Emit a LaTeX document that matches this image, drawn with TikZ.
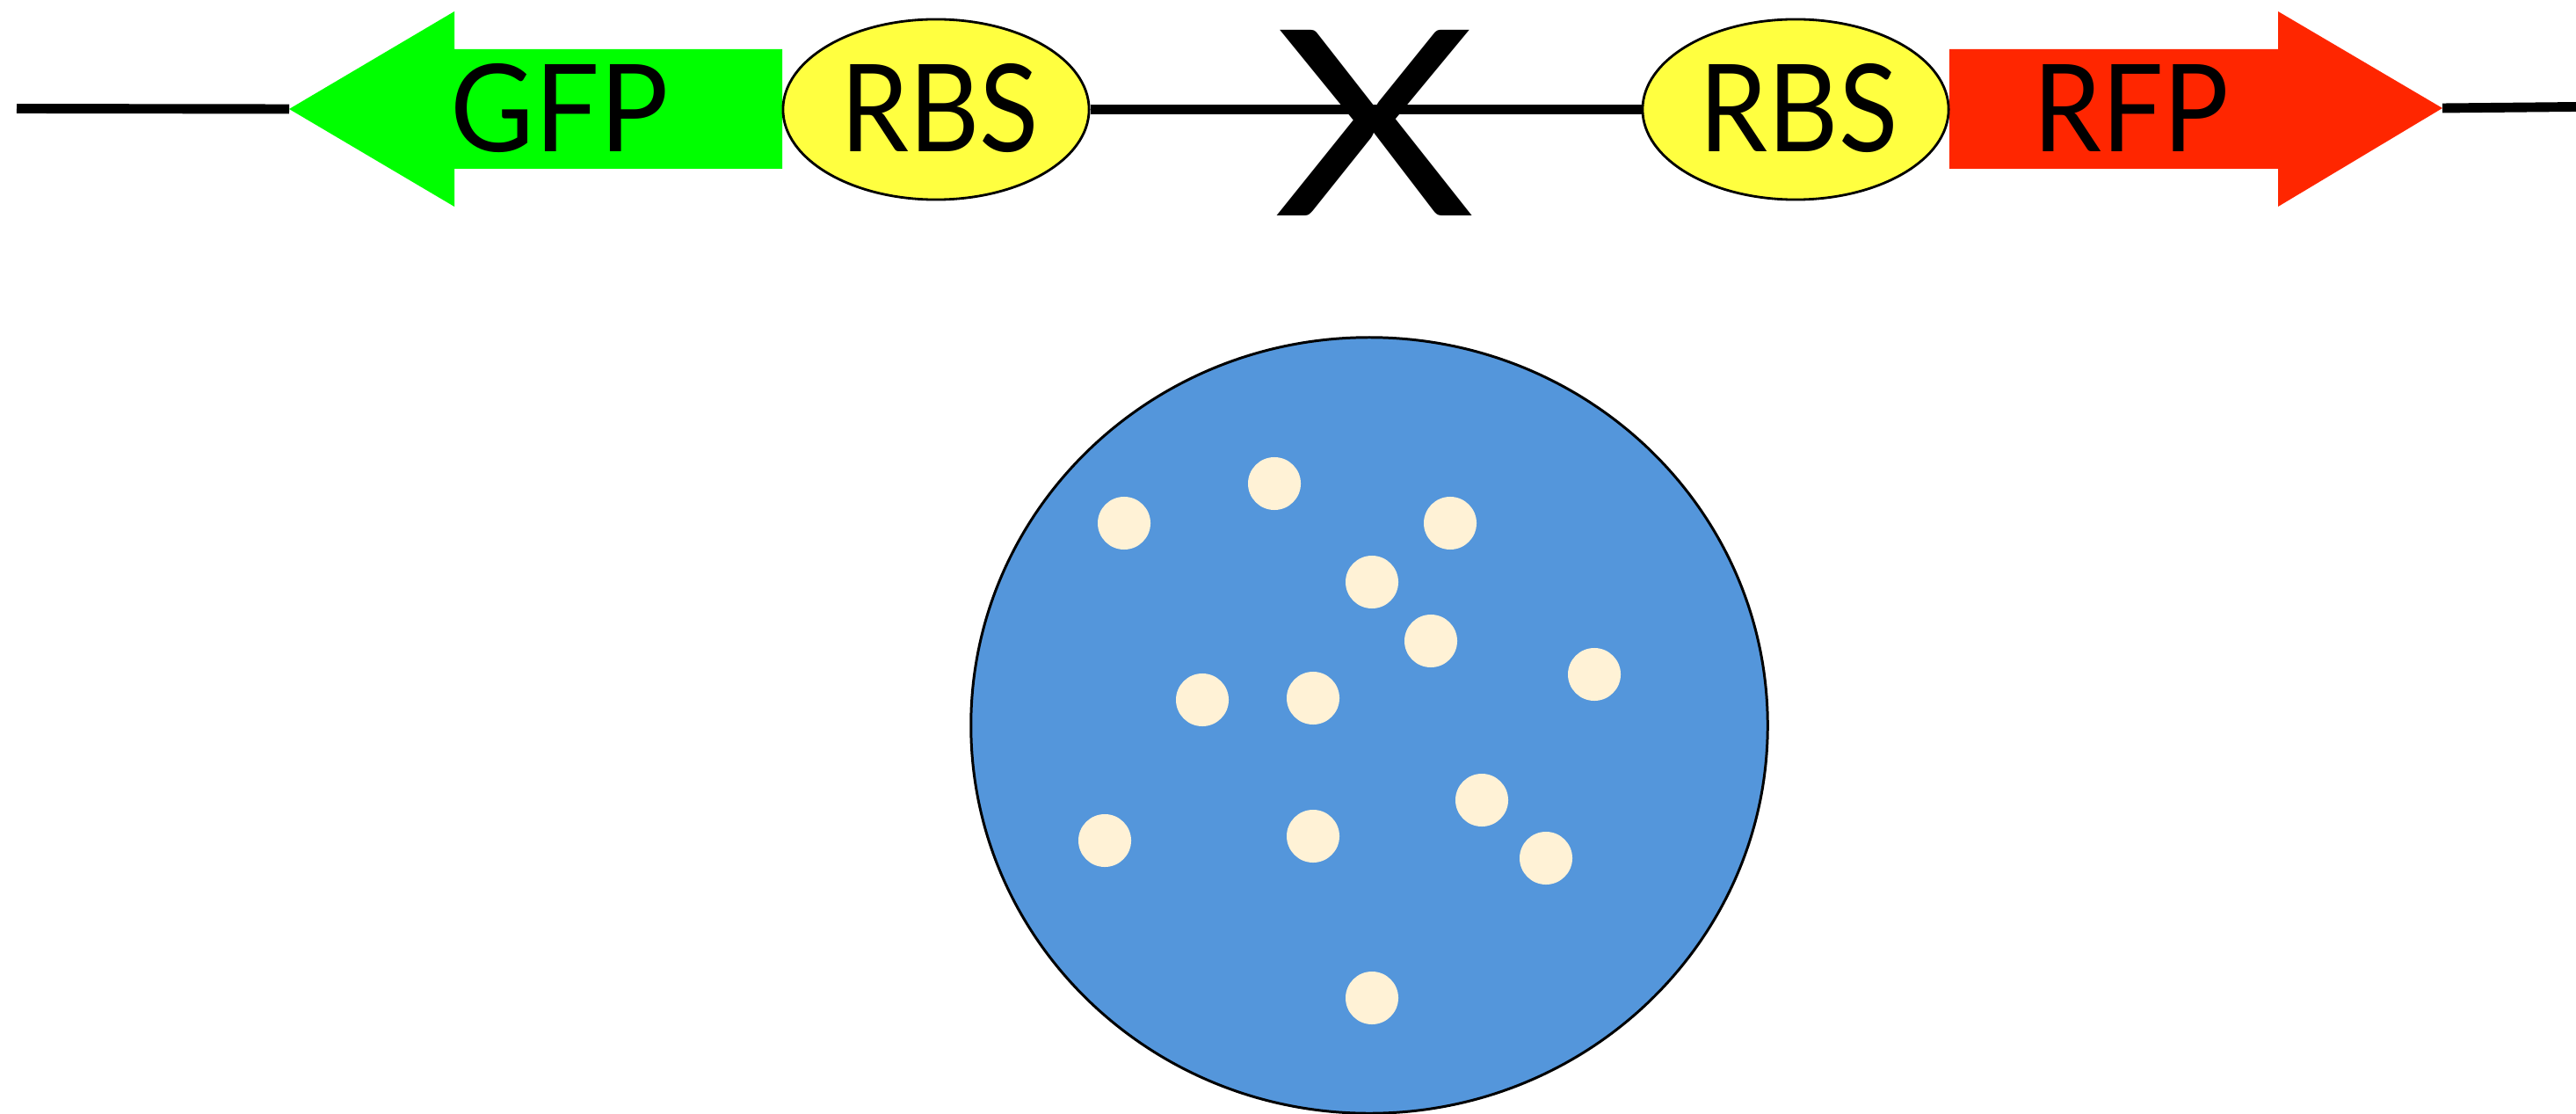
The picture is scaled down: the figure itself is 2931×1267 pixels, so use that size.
\documentclass[tikz,border=0pt]{standalone}
\usepackage{fontspec}
\setmainfont{Lato}
\usetikzlibrary{shapes.geometric}
\definecolor{gfpgreen}{RGB}{0,255,0}
\definecolor{rfpred}{RGB}{255,38,0}
\definecolor{rbsyellow}{RGB}{255,255,64}
\definecolor{plateblue}{RGB}{84,150,219}
\definecolor{colony}{RGB}{255,242,214}
\begin{document}
\begin{tikzpicture}[x=0.01cm,y=-0.01cm,
  backbone/.style={line width=3.1pt},
  rbs/.style={ellipse, draw=black, line width=0.8pt, fill=rbsyellow, minimum width=3.48cm, minimum height=2.05cm, inner sep=0pt},
  genelabel/.style={inner sep=0pt, xscale=0.9, font=\fontsize{39.3}{40}\selectfont},
  colonydot/.style={circle, fill=colony, minimum size=0.6cm, inner sep=0pt},
]
\useasboundingbox (0,0) rectangle (2931,1267);
% backbone end points
\coordinate (lstart) at (19,123.5);
\coordinate (rend) at (2931,121.5);
\coordinate (gfptip) at (329,124);
\coordinate (rfptip) at (2779,123);
% gene arrows
\fill[gfpgreen] (gfptip) -- (517,13) -- (517,56) -- (890,56) -- (890,192) -- (517,192) -- (517,235) -- cycle;
\fill[rfpred] (2218,56) -- (2592,56) -- (2592,13) -- (rfptip) -- (2592,235) -- (2592,192) -- (2218,192) -- cycle;
% RBS ellipses
\node[rbs] (rbsA) at (1065,124.5) {};
\node[rbs] (rbsB) at (2043,124.5) {};
% backbone
\draw[backbone] (lstart) -- (gfptip);
\draw[backbone] (rbsA.east) -- (rbsB.west);
\draw[backbone] (rfptip) -- (rend);
% labels
\node[genelabel, xscale=1.05] (gfp) at (636.5,122.5) {GFP};
\node[genelabel] (rbsAt) at (1069,122.5) {RBS};
\node[genelabel] (rbsBt) at (2046.5,122.5) {RBS};
\node[genelabel] (rfp) at (2424.5,122.5) {RFP};
\node[inner sep=0pt, font=\fontsize{83.8}{84}\selectfont, xscale=1.2] (xmark) at (1564.5,139.5) {X};
% plate
\node[ellipse, draw=black, line width=0.85pt, fill=plateblue, minimum width=9.06cm, minimum height=8.82cm, inner sep=0pt] (plate) at (1558,825) {};
\node[colonydot] (c1) at (1279,595) {};
\node[colonydot] (c2) at (1450,550) {};
\node[colonydot] (c3) at (1650,595) {};
\node[colonydot] (c4) at (1561,662) {};
\node[colonydot] (c5) at (1628,729) {};
\node[colonydot] (c6) at (1814,767) {};
\node[colonydot] (c7) at (1368,796) {};
\node[colonydot] (c8) at (1494,794) {};
\node[colonydot] (c9) at (1686,910) {};
\node[colonydot] (c10) at (1759,976) {};
\node[colonydot] (c11) at (1257,956) {};
\node[colonydot] (c12) at (1494,951) {};
\node[colonydot] (c13) at (1561,1135) {};
\end{tikzpicture}
\end{document}
